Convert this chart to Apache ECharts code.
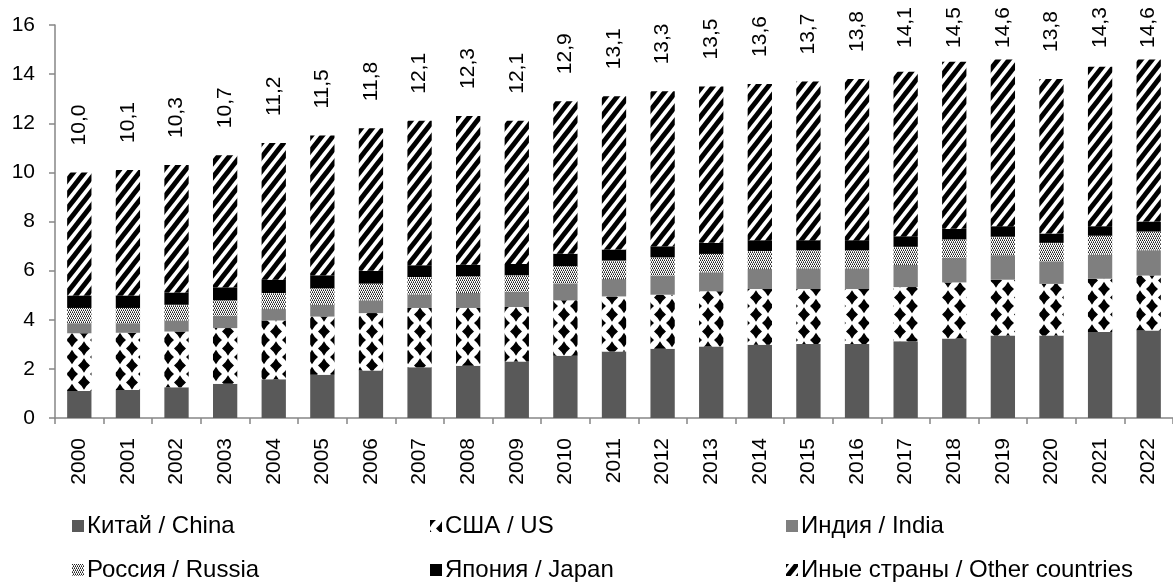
<!DOCTYPE html>
<html>
<head>
<meta charset="utf-8">
<script src="https://cdn.jsdelivr.net/npm/echarts@6/dist/echarts.min.js"></script>
<style>
  html, body { margin: 0; padding: 0; background: #fff; }
  #chart { width: 1173px; height: 583px; }
</style>
</head>
<body>
<div id="chart"></div>
<script>
// ---- data ----
const years = ['2000','2001','2002','2003','2004','2005','2006','2007','2008','2009','2010','2011',
               '2012','2013','2014','2015','2016','2017','2018','2019','2020','2021','2022'];
const china  = [1.10,1.14,1.25,1.39,1.58,1.76,1.93,2.07,2.13,2.30,2.53,2.71,2.82,2.91,2.98,3.01,3.01,3.12,3.24,3.36,3.36,3.50,3.56];
const us     = [2.35,2.33,2.27,2.27,2.39,2.37,2.34,2.41,2.35,2.22,2.26,2.24,2.20,2.25,2.27,2.24,2.24,2.21,2.28,2.27,2.10,2.17,2.24];
const india  = [0.41,0.39,0.45,0.50,0.48,0.48,0.52,0.55,0.61,0.62,0.69,0.71,0.78,0.77,0.82,0.84,0.84,0.90,1.00,1.00,0.92,0.98,1.03];
const russia = [0.62,0.62,0.64,0.63,0.64,0.67,0.68,0.71,0.68,0.67,0.70,0.75,0.74,0.75,0.73,0.74,0.74,0.74,0.75,0.75,0.75,0.77,0.76];
const japan  = [0.51,0.51,0.50,0.53,0.54,0.53,0.52,0.48,0.47,0.46,0.51,0.45,0.45,0.45,0.44,0.41,0.41,0.43,0.43,0.43,0.38,0.39,0.41];
const other  = [5.01,5.11,5.19,5.38,5.57,5.69,5.81,5.88,6.06,5.83,6.21,6.24,6.31,6.37,6.36,6.46,6.56,6.70,6.80,6.79,6.29,6.49,6.60];
const totals = [10.0,10.1,10.3,10.7,11.2,11.5,11.8,12.1,12.3,12.1,12.9,13.1,13.3,13.5,13.6,13.7,13.8,14.1,14.5,14.6,13.8,14.3,14.6];
const yTicks = { min: 0, max: 16, interval: 2 };
const names = ['Китай / China','США / US','Индия / India','Россия / Russia','Япония / Japan','Иные страны / Other countries'];

// ---- patterns ----
function tile(w, h, draw) {
  const c = document.createElement('canvas');
  c.width = w; c.height = h;
  draw(c.getContext('2d'), w, h);
  return { image: c, repeat: 'repeat' };
}
const diamondFill = tile(24, 17, (ctx, w, h) => {
  ctx.fillStyle = '#fff'; ctx.fillRect(0, 0, w, h);
  ctx.fillStyle = '#000';
  const a = 6, b = 7.3, k = 0.78;
  const pts = [[12, 8.5], [0, 0], [24, 0], [0, 17], [24, 17]];
  pts.forEach(([x, y]) => {
    ctx.beginPath();
    ctx.moveTo(x, y - b);
    ctx.quadraticCurveTo(x + a * 0.5 * k, y - b * 0.5 * k, x + a, y);
    ctx.quadraticCurveTo(x + a * 0.5 * k, y + b * 0.5 * k, x, y + b);
    ctx.quadraticCurveTo(x - a * 0.5 * k, y + b * 0.5 * k, x - a, y);
    ctx.quadraticCurveTo(x - a * 0.5 * k, y - b * 0.5 * k, x, y - b);
    ctx.fill();
  });
});
const dotFill = tile(4, 4, (ctx, w, h) => {
  ctx.fillStyle = '#ffffff'; ctx.fillRect(0, 0, w, h);
  ctx.fillStyle = '#222222';
  [[0, 0], [2, 0], [1, 2], [3, 2]].forEach(([x, y]) => ctx.fillRect(x, y, 1, 1));
  ctx.fillStyle = '#777777';
  [[1, 1], [3, 1], [0, 3], [2, 3]].forEach(([x, y]) => ctx.fillRect(x, y, 1, 1));
});
const stripeFill = tile(11, 14, (ctx, w, h) => {
  ctx.fillStyle = '#fff'; ctx.fillRect(0, 0, w, h);
  ctx.strokeStyle = '#000'; ctx.lineWidth = 4.8;
  for (let n = 0; n <= 2; n++) {
    ctx.beginPath();
    ctx.moveTo(-w, n * h + h);
    ctx.lineTo(n * w + w, -h);
    ctx.stroke();
  }
});

const colors = ['#595959', diamondFill, '#7f7f7f', dotFill, '#000000', stripeFill];
const seriesData = [china, us, india, russia, japan, other];

// ---- layout ----
const grid = { left: 55, top: 25, width: 1119, height: 393 };
const font = 'Liberation Sans, Arial, sans-serif';
const fs = 21;
const legendFs = 24;

function barTopPx(v) { return grid.top + grid.height * (1 - v / yTicks.max); }

const series = seriesData.map((d, i) => {
  const s = {
    name: names[i], type: 'bar', stack: 'total', barWidth: '50%',
    itemStyle: { color: colors[i] },
    data: d.slice()
  };
  if (i === 5) {
    s.data = d.map((v, k) => ({
      value: v,
      label: { distance: Math.min(27, barTopPx(totals[k]) - 48) }
    }));
    s.label = {
      show: true, position: 'top', rotate: 90, align: 'left', verticalAlign: 'middle',
      color: '#000', fontSize: fs, fontFamily: font,
      formatter: p => totals[p.dataIndex].toFixed(1).replace('.', ',')
    };
  }
  return s;
});

const legendPos = [
  { left: 72, top: 514 }, { left: 430, top: 514 }, { left: 786, top: 514 },
  { left: 72, top: 558 }, { left: 430, top: 558 }, { left: 786, top: 558 }
];
const legends = names.map((n, i) => ({
  data: [n], left: legendPos[i].left, top: legendPos[i].top,
  icon: 'rect', itemWidth: 12, itemHeight: 12, itemGap: 0, padding: 0,
  textStyle: { color: '#000', fontSize: legendFs, fontFamily: font, padding: [0, 0, 0, -2] },
  selectedMode: false
}));

const chart = echarts.init(document.getElementById('chart'), null, { renderer: 'canvas' });
chart.setOption({
  animation: false,
  backgroundColor: '#fff',
  grid: grid,
  legend: legends,
  xAxis: {
    type: 'category', data: years,
    axisLine: { lineStyle: { color: '#868686', width: 1.5 } },
    axisTick: { show: true, interval: 0, length: 6, lineStyle: { color: '#868686', width: 1.5 } },
    axisLabel: { rotate: 90, margin: 20, color: '#000', fontSize: fs, fontFamily: font, interval: 0 }
  },
  yAxis: {
    type: 'value', min: yTicks.min, max: yTicks.max, interval: yTicks.interval,
    splitLine: { show: false },
    axisLine: { show: true, lineStyle: { color: '#868686', width: 1.5 } },
    axisTick: { show: true, length: 6, lineStyle: { color: '#868686', width: 1.5 } },
    axisLabel: { margin: 20, color: '#000', fontSize: fs, fontFamily: font }
  },
  series: series
});
</script>
</body>
</html>
